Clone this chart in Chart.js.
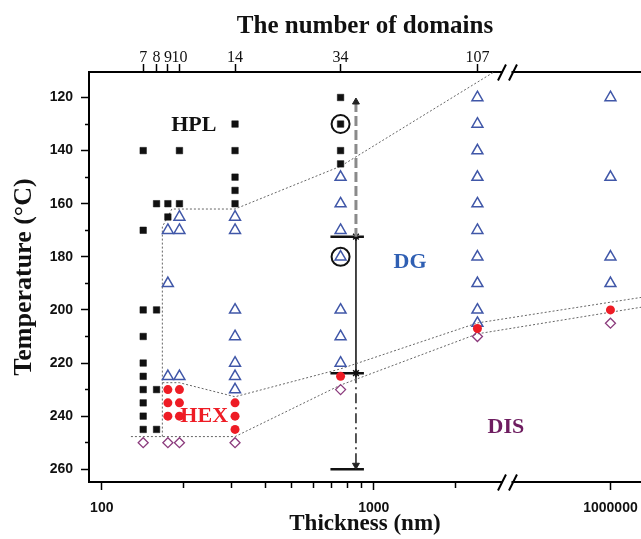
<!DOCTYPE html>
<html>
<head>
<meta charset="utf-8">
<script src="https://cdn.jsdelivr.net/npm/chart.js@4.4.0/dist/chart.umd.min.js"></script>
<style>
    body { margin: 0; background: #fff; }
    canvas { display: block; }
</style>
</head>
<body>
<canvas id="myChart" width="641" height="539"></canvas>
<script>
// thickness (nm) of each film column, and its number of domains (top axis)
let thickness = [142, 159, 175, 193, 309, 755, 2405, 1000000]
let domains = [7, 8, 9, 10, 14, 34, 107]

// temperatures (°C) seen for each phase, one list per thickness column
let hplTemps = [
    [140, 170, 200, 210, 220, 225, 230, 235, 240, 245],
    [160, 200, 230, 245],
    [160, 165],
    [140, 160],
    [130, 140, 150, 155, 160],
    [120, 130, 140, 145],
    [],
    []
]
let dgTemps = [
    [],
    [],
    [170, 190, 225],
    [165, 170, 225],
    [165, 170, 200, 210, 220, 225, 230],
    [150, 160, 170, 180, 200, 210, 220],
    [120, 130, 140, 150, 160, 170, 180, 190, 200, 205],
    [120, 150, 180, 190]
]
let hexTemps = [[], [], [230, 235, 240], [230, 235, 240], [235, 240, 245], [225], [207], [200]]
let disTemps = [[250], [], [250], [250], [250], [230], [210], [205]]

// circled points
let circledX = [755, 755]
let circledY = [130, 180]

// dotted phase boundaries
let hplBoundX = [167, 167, 181, 309, 755, 2766]
let hplBoundY = [247.7, 168.7, 162, 162, 145.9, 110.4]
let hexTopX = [167, 193, 309, 755, 2405, 1295000]
let hexTopY = [227.4, 227.4, 232.7, 222.2, 204.9, 195.3]
let hexBottomX = [128, 309, 755, 2405, 1295000]
let hexBottomY = [247.7, 247.7, 228.3, 209.0, 199.0]

// vertical arrow at ~860 nm
let arrowX = 860
let arrowBarX = [693, 920]
let arrowTemps = [121.7, 172.4, 223.8, 258.5]
let arrowBarTemps = [172.4, 223.8, 260]

// phase names
let phaseNames = ['HPL', 'HEX', 'DG', 'DIS']
let phaseColors = ['#111111', '#ee1c25', '#2f5fb3', '#6e1d60']
let phaseLabelX = [218, 238, 1359, 3062]
let phaseLabelY = [130.5, 239.9, 182.1, 244.3]

// ticks
let xTicks = [100, 1000, 1000000]
let xMinorTicks = [200, 300, 400, 500, 600, 700, 800, 900, 2000]
let yTicks = [120, 140, 160, 180, 200, 220, 240, 260]
let yMinorTicks = [130, 150, 170, 190, 210, 230, 250]

const X_MIN = 89.75
const X_MAX = 1295000
const Y_MIN = 110.4
const Y_MAX = 264.8
// log10 of thickness where the axis is cut, and where it resumes
const BREAK_LO = 3.4897
const BREAK_HI = 5.6195

//---------------------------------------------------------------- broken log axis

function toD(v) {
    let l = Math.log10(v)
    if (l <= BREAK_LO) return l
    if (l >= BREAK_HI) return l - (BREAK_HI - BREAK_LO)
    return BREAK_LO
}

function fromD(d) {
    return d <= BREAK_LO ? Math.pow(10, d) : Math.pow(10, d + BREAK_HI - BREAK_LO)
}

class BrokenLogScale extends Chart.LogarithmicScale {
    getPixelForValue(value) {
        let d0 = toD(this.min), d1 = toD(this.max)
        return this.getPixelForDecimal((toD(value) - d0) / (d1 - d0))
    }
    getValueForPixel(pixel) {
        let d0 = toD(this.min), d1 = toD(this.max)
        return fromD(d0 + this.getDecimalForPixel(pixel) * (d1 - d0))
    }
}
BrokenLogScale.id = 'brokenLog'
BrokenLogScale.defaults = Chart.LogarithmicScale.defaults
Chart.register(BrokenLogScale)

//---------------------------------------------------------------- data

function columnPoints(temps) {
    let pts = []
    for (let i = 0; i < temps.length; i++) {
        for (let t of temps[i]) pts.push({ x: thickness[i], y: t })
    }
    return pts
}

function zipPoints(xs, ys) {
    return xs.map((x, i) => ({ x: x, y: ys[i] }))
}

function dotted(xs, ys) {
    return {
        data: zipPoints(xs, ys),
        showLine: true,
        borderColor: '#666',
        borderWidth: 1,
        borderDash: [2, 2],
        pointRadius: 0
    }
}

let datasets = [
    {
        data: zipPoints(circledX, circledY),
        pointStyle: 'circle', pointRadius: 9,
        pointBorderColor: '#111', pointBackgroundColor: 'rgba(0,0,0,0)', pointBorderWidth: 2
    },
    {
        data: columnPoints(hexTemps),
        pointStyle: 'circle', pointRadius: 4.5,
        pointBorderColor: '#ee1c25', pointBackgroundColor: '#ee1c25', pointBorderWidth: 0
    },
    {
        data: columnPoints(hplTemps),
        pointStyle: 'rect', pointRadius: 4.6,
        pointBorderColor: '#111', pointBackgroundColor: '#111', pointBorderWidth: 0.5
    },
    {
        data: columnPoints(dgTemps),
        pointStyle: 'triangle', pointRadius: 6.3,
        pointBorderColor: '#4057a8', pointBackgroundColor: 'rgba(0,0,0,0)', pointBorderWidth: 1.5
    },
    {
        data: columnPoints(disTemps),
        pointStyle: 'rectRot', pointRadius: 5,
        pointBorderColor: '#8b3a7c', pointBackgroundColor: 'rgba(0,0,0,0)', pointBorderWidth: 1.3
    },
    dotted(hplBoundX, hplBoundY),
    dotted(hexTopX, hexTopY),
    dotted(hexBottomX, hexBottomY),
    {
        // dashed upper part with arrow head
        data: [{ x: arrowX, y: arrowTemps[0] }, { x: arrowX, y: arrowTemps[1] }],
        showLine: true, borderColor: '#8a8a8a', borderWidth: 3, borderDash: [10, 4],
        pointStyle: 'triangle', pointRadius: [4, 0], pointBackgroundColor: '#222', pointBorderColor: '#222', pointBorderWidth: 1
    },
    {
        data: [{ x: arrowX, y: arrowTemps[1] }, { x: arrowX, y: arrowTemps[2] }],
        showLine: true, borderColor: '#333', borderWidth: 1.8,
        pointStyle: 'star', pointRadius: 4, pointBorderColor: '#111', pointBorderWidth: 1.5
    },
    {
        data: [{ x: arrowX, y: arrowTemps[2] }, { x: arrowX, y: arrowTemps[3] }],
        showLine: true, borderColor: '#444', borderWidth: 1.8, borderDash: [10, 4, 2, 4],
        pointStyle: 'triangle', pointRotation: 180, pointRadius: [0, 4], pointBackgroundColor: '#222', pointBorderColor: '#222', pointBorderWidth: 1
    }
]

for (let t of arrowBarTemps) {
    datasets.push({
        data: [{ x: arrowBarX[0], y: t }, { x: arrowBarX[1], y: t }],
        showLine: true, borderColor: '#111', borderWidth: 2.5, pointRadius: 0
    })
}

for (let ds of datasets) {
    ds.xAxisID = 'x'
    ds.yAxisID = 'y'
}

//---------------------------------------------------------------- plugins

const phaseText = {
    id: 'phaseText',
    afterDatasetsDraw(chart) {
        let ctx = chart.ctx
        let x = chart.scales.x, y = chart.scales.y
        ctx.save()
        ctx.font = 'bold 22px "Liberation Serif"'
        ctx.textAlign = 'center'
        ctx.textBaseline = 'middle'
        for (let i = 0; i < phaseNames.length; i++) {
            ctx.fillStyle = phaseColors[i]
            ctx.fillText(phaseNames[i], x.getPixelForValue(phaseLabelX[i]), y.getPixelForValue(phaseLabelY[i]))
        }
        ctx.restore()
    }
}

const axisBreak = {
    id: 'axisBreak',
    afterDraw(chart) {
        let ctx = chart.ctx
        let area = chart.chartArea
        let bx = chart.scales.x.getPixelForValue(Math.pow(10, BREAK_LO))
        ctx.save()
        for (let yy of [area.top, area.bottom]) {
            ctx.fillStyle = '#fff'
            ctx.fillRect(bx - 4, yy - 2, 8.5, 4)
            ctx.strokeStyle = '#000'
            ctx.lineWidth = 2
            ctx.beginPath()
            ctx.moveTo(bx - 9, yy + 8.5)
            ctx.lineTo(bx - 1, yy - 7.5)
            ctx.moveTo(bx + 2, yy + 8.5)
            ctx.lineTo(bx + 10, yy - 7.5)
            ctx.stroke()
        }
        ctx.restore()
    }
}

//---------------------------------------------------------------- chart

const sansBold = { family: 'Liberation Sans', size: 14, weight: 'bold' }

function setTicks(list) {
    return s => { s.ticks = list.map(v => ({ value: v })) }
}

new Chart('myChart', {
    type: 'scatter',
    data: { datasets: datasets },
    options: {
        responsive: false,
        animation: false,
        devicePixelRatio: 1,
        events: [],
        layout: { padding: 0, autoPadding: false },
        plugins: {
            legend: { display: false },
            tooltip: { enabled: false }
        },
        scales: {
            x: {
                type: 'brokenLog', position: 'bottom', weight: 1,
                min: X_MIN, max: X_MAX, bounds: 'data',
                afterBuildTicks: setTicks(xTicks),
                afterFit: s => { s.height = 57; s.paddingLeft = 0; s.paddingRight = 0 },
                ticks: { autoSkip: false, maxRotation: 0, padding: 10, color: '#111', font: sansBold, callback: v => String(v) },
                grid: { drawOnChartArea: false, tickLength: 8, tickWidth: 1.5, tickColor: '#000' },
                border: { color: '#000', width: 2 },
                title: {
                    display: true, text: 'Thickness (nm)', color: '#111',
                    font: { family: 'Liberation Serif', size: 23, weight: 'bold', lineHeight: 1 },
                    padding: { top: 0, bottom: 3 }
                }
            },
            xMinor: {
                type: 'brokenLog', axis: 'x', position: 'bottom', weight: 0,
                min: X_MIN, max: X_MAX, bounds: 'data',
                afterBuildTicks: setTicks(xMinorTicks),
                afterFit: s => { s.height = 0; s.paddingLeft = 0; s.paddingRight = 0 },
                ticks: { display: false, autoSkip: false },
                grid: { drawOnChartArea: false, tickLength: 6, tickWidth: 1.5, tickColor: '#000' },
                border: { display: false }
            },
            xTop: {
                type: 'brokenLog', axis: 'x', position: 'top', weight: 1,
                min: X_MIN, max: X_MAX, bounds: 'data',
                afterBuildTicks: setTicks(thickness.slice(0, domains.length)),
                afterFit: s => { s.height = 72; s.paddingLeft = 0; s.paddingRight = 0 },
                ticks: {
                    autoSkip: false, maxRotation: 0, padding: -3, color: '#111',
                    font: { family: 'Liberation Serif', size: 16 },
                    callback: (v, i) => String(domains[i])
                },
                grid: { drawOnChartArea: false, tickLength: 8, tickWidth: 1.5, tickColor: '#000' },
                border: { color: '#000', width: 2 },
                title: {
                    display: true, text: 'The number of domains', color: '#111',
                    font: { family: 'Liberation Serif', size: 25, weight: 'bold', lineHeight: 1 },
                    padding: { top: 14, bottom: 0 }
                }
            },
            y: {
                type: 'linear', position: 'left', weight: 1, reverse: true,
                min: Y_MIN, max: Y_MAX,
                afterBuildTicks: setTicks(yTicks),
                afterFit: s => { s.width = 89 },
                ticks: { autoSkip: false, padding: 8, color: '#111', font: sansBold, callback: v => String(v) },
                grid: { drawOnChartArea: false, tickLength: 8, tickWidth: 1.5, tickColor: '#000' },
                border: { color: '#000', width: 2 },
                title: {
                    display: true, text: 'Temperature (°C)', color: '#111',
                    font: { family: 'Liberation Serif', size: 26, weight: 'bold', lineHeight: 1 },
                    padding: { top: 11, bottom: 0 }
                }
            },
            yMinor: {
                type: 'linear', axis: 'y', position: 'left', weight: 0, reverse: true,
                min: Y_MIN, max: Y_MAX,
                afterBuildTicks: setTicks(yMinorTicks),
                afterFit: s => { s.width = 0 },
                ticks: { display: false, autoSkip: false },
                grid: { drawOnChartArea: false, tickLength: 4, tickWidth: 1.5, tickColor: '#000' },
                border: { display: false }
            }
        }
    },
    plugins: [phaseText, axisBreak]
})
</script>
</body>
</html>
